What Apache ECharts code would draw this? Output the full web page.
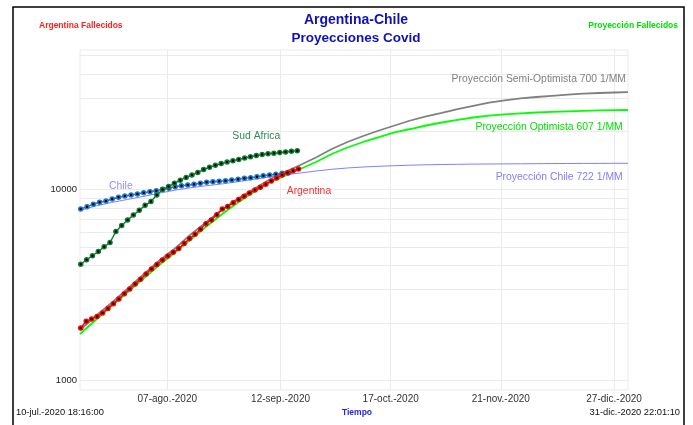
<!DOCTYPE html>
<html><head><meta charset="utf-8">
<script src="https://cdn.jsdelivr.net/npm/echarts@6/dist/echarts.min.js"></script>
<style>html,body{margin:0;padding:0;background:#fff}#c{width:693px;height:425px}</style>
</head><body><div id="c"></div>
<script>
const DAY = 86400000;
const FONT = "'Liberation Sans', Arial, Helvetica, sans-serif";
const axisStart = Date.UTC(2020, 6, 10, 18, 16, 0);
const axisEnd = Date.UTC(2020, 11, 31, 22, 1, 10);
const xTickDates = ['2020-08-07T12:00:00Z', '2020-09-12T12:00:00Z', '2020-10-17T12:00:00Z', '2020-11-21T12:00:00Z', '2020-12-27T12:00:00Z'];
const monthNames = ['ene.', 'feb.', 'mar.', 'abr.', 'may.', 'jun.', 'jul.', 'ago.', 'sep.', 'oct.', 'nov.', 'dic.'];
const yGridValues = [1000, 2000, 3000, 4000, 5000, 6000, 7000, 8000, 9000, 10000, 20000, 30000, 40000, 50000];
const yLabelValues = [1000, 10000];
const yMin = 894, yMax = 53430;

// Observed data (fallecidos)
const argentinaStart = '2020-07-11T00:00:00Z', argentinaStepDays = 1.73;
const argentina = [1885, 2043, 2103, 2167, 2256, 2386, 2525, 2673, 2848, 3014, 3197, 3391, 3609, 3833, 4042, 4271, 4477, 4687, 4900, 5215, 5533, 5820, 6187, 6612, 6920, 7359, 7891, 8122, 8503, 8856, 9192, 9565, 9916, 10243, 10632, 11050, 11470, 11862, 12208, 12492, 12766];
const chileStart = '2020-07-11T00:00:00Z', chileStepDays = 2;
const chile = [7891, 8113, 8349, 8553, 8688, 8899, 9082, 9226, 9337, 9450, 9598, 9716, 9833, 10000, 10121, 10318, 10443, 10531, 10620, 10748, 10879, 10957, 11010, 11089, 11183, 11278, 11417, 11497, 11635, 11778, 11876, 11977, 12121, 12166];
const sudAfricaStart = '2020-07-11T00:00:00Z', sudAfricaStepDays = 1.86;
const sudAfrica = [4057, 4282, 4498, 4732, 5002, 5272, 6018, 6470, 6920, 7332, 7769, 8241, 8647, 9337, 9964, 10356, 10748, 11156, 11526, 11876, 12253, 12688, 13028, 13362, 13622, 13870, 14106, 14329, 14555, 14785, 15000, 15181, 15329, 15438, 15549, 15664, 15795, 15912];

// Projections: every 5 days from axis start, last value at axis end
const projStepDays = 5;
const projSemiOptimista = [1840, 2178, 2547, 3014, 3566, 4220, 4877, 5771, 6707, 7796, 8899, 9976, 11183, 12312, 13396, 14660, 16237, 17668, 18984, 20288, 21544, 22879, 24064, 25101, 26271, 27308, 28345, 29174, 29847, 30353, 30797, 31246, 31587, 31850, 32041, 32160];
const projOptimista = [1754, 2076, 2456, 2889, 3399, 3998, 4648, 5434, 6353, 7384, 8482, 9623, 10787, 11734, 12766, 13886, 15291, 16535, 17668, 18754, 19808, 20654, 21544, 22336, 23073, 23719, 24270, 24648, 24950, 25192, 25402, 25554, 25708, 25833, 25928, 25958];
const projChile = [7749, 8180, 8531, 8846, 9170, 9530, 9880, 10181, 10430, 10659, 10944, 11251, 11595, 11876, 12166, 12461, 12722, 12922, 13078, 13190, 13285, 13365, 13428, 13478, 13510, 13543, 13559, 13575, 13591, 13608, 13624, 13640, 13656, 13656, 13672, 13672];

function regular(startIso, stepDays, vals) {
  const s = Date.parse(startIso);
  return vals.map((v, i) => [s + i * stepDays * DAY, v]);
}
function proj(vals) {
  return vals.map((v, i) => [i === vals.length - 1 ? axisEnd : axisStart + i * projStepDays * DAY, v]);
}
function fmtDate(ts) {
  const d = new Date(ts);
  const dd = String(d.getUTCDate()).padStart(2, '0');
  return dd + '-' + monthNames[d.getUTCMonth()] + '-' + d.getUTCFullYear();
}
const xTicks = xTickDates.map(s => Date.parse(s));

function dataSeries(name, data, color) {
  return {
    name, type: 'line', data, z: 5,
    symbol: 'circle', symbolSize: 4, showSymbol: true,
    lineStyle: { color, width: 1.4 },
    itemStyle: { color: '#000', borderColor: color, borderWidth: 1.5 },
    emphasis: { disabled: true }
  };
}
function projSeries(name, data, color, width) {
  return {
    name, type: 'line', data, z: 3, symbol: 'none',
    lineStyle: { color, width }, emphasis: { disabled: true }
  };
}
function txt(text, x, y, fill, font, align) {
  return { type: 'text', x, y, silent: true, z: 100,
    style: { text, fill, font, align: align || 'left', textAlign: align || 'left', verticalAlign: 'middle', textVerticalAlign: 'middle' } };
}

const chart = echarts.init(document.getElementById('c'));
chart.setOption({
  animation: false,
  backgroundColor: '#fff',
  grid: { left: 80, right: 65, top: 50, bottom: 35, show: true, borderColor: '#ebebeb', borderWidth: 1, containLabel: false },
  xAxis: {
    type: 'value', min: axisStart, max: axisEnd,
    axisLine: { show: false },
    axisTick: { show: false, customValues: xTicks },
    axisLabel: { customValues: xTicks, formatter: v => fmtDate(v), fontSize: 10, color: '#333', margin: 4, fontFamily: FONT },
    splitLine: { show: true, lineStyle: { color: '#ebebeb', width: 1 } }
  },
  yAxis: {
    type: 'log', logBase: 10, min: yMin, max: yMax,
    axisLine: { show: false },
    axisTick: { show: false, customValues: yGridValues },
    axisLabel: { customValues: yLabelValues, formatter: v => String(Math.round(v)), fontSize: 9.5, color: '#222', margin: 3, fontFamily: FONT },
    splitLine: { show: true, lineStyle: { color: '#ebebeb', width: 1 } }
  },
  series: [
    projSeries('Proyección Chile 722 1/MM', proj(projChile), '#8080ff', 1),
    projSeries('Proyección Semi-Optimista 700 1/MM', proj(projSemiOptimista), '#808080', 1.8),
    projSeries('Proyección Optimista 607 1/MM', proj(projOptimista), '#00ff00', 1.8),
    dataSeries('Chile', regular(chileStart, chileStepDays, chile), '#1f78d2'),
    dataSeries('Sud Africa', regular(sudAfricaStart, sudAfricaStepDays, sudAfrica), '#0f7a32'),
    dataSeries('Argentina', regular(argentinaStart, argentinaStepDays, argentina), '#ff0000')
  ],
  graphic: [
    { type: 'rect', silent: true, z: 100, shape: { x: 13, y: 7, width: 671, height: 440 }, style: { fill: 'none', stroke: '#000', lineWidth: 1.5 } },
    txt('Argentina-Chile', 356, 20.5, '#1010b8', 'bold 14px ' + FONT, 'center'),
    txt('Proyecciones Covid', 356, 38.3, '#1010b8', 'bold 13.5px ' + FONT, 'center'),
    txt('Argentina Fallecidos', 39, 26, '#ff2020', 'bold 8.5px ' + FONT, 'left'),
    txt('Proyección Fallecidos', 678, 26, '#00e000', 'bold 8.5px ' + FONT, 'right'),
    txt('10-jul.-2020 18:16:00', 16, 412.7, '#111', '9.3px ' + FONT, 'left'),
    txt('Tiempo', 357, 412.7, '#2222ee', 'bold 8.5px ' + FONT, 'center'),
    txt('31-dic.-2020 22:01:10', 680, 412.7, '#111', '9.3px ' + FONT, 'right'),
    txt('Proyección Semi-Optimista 700 1/MM', 626, 79.3, '#808080', '10.4px ' + FONT, 'right'),
    txt('Proyección Optimista 607 1/MM', 622.7, 126.7, '#00e000', '10.4px ' + FONT, 'right'),
    txt('Proyección Chile 722 1/MM', 622.7, 176.7, '#8080ff', '10.4px ' + FONT, 'right'),
    txt('Sud Africa', 232.3, 136, '#2e8b57', '10.4px ' + FONT, 'left'),
    txt('Chile', 109, 186, '#9090ff', '10.4px ' + FONT, 'left'),
    txt('Argentina', 286.7, 190.7, '#ff3030', '10.4px ' + FONT, 'left')
  ]
});
</script>
</body></html>
